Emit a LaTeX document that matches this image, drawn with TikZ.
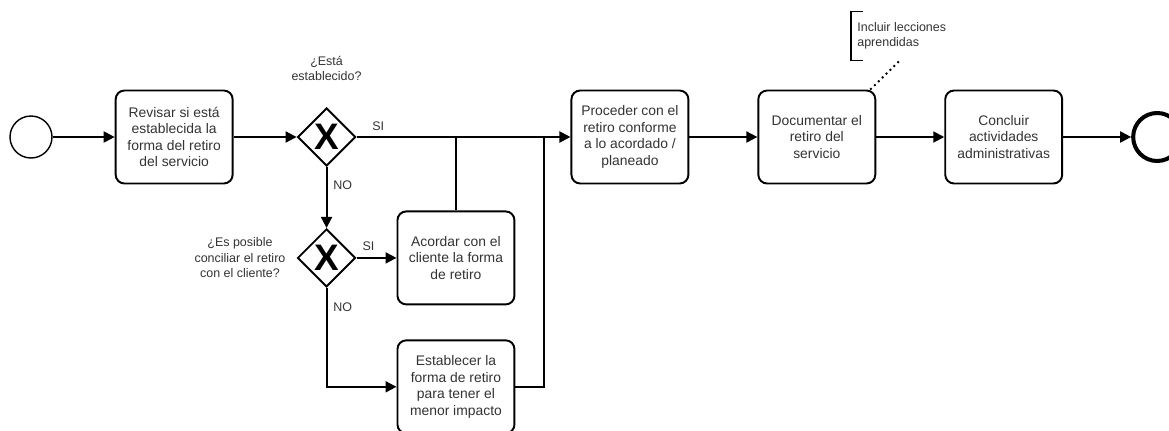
\documentclass[tikz,border=0pt]{standalone}
\usepackage{fontspec}
\setmainfont{Liberation Sans}
\usetikzlibrary{positioning,shapes.geometric,arrows.meta,calc}

\begin{document}
\begin{tikzpicture}[
    x=0.02cm, y=-0.02cm,
    node distance=1.36cm,
    task/.style={rectangle, draw, line width=1.1pt, rounded corners=5pt, minimum width=2.34cm, minimum height=1.86cm, align=center, text=black!80, font=\fontsize{7.9}{9.4}\selectfont},
    gate/.style={diamond, draw, line width=1.1pt, minimum size=1.16cm, inner sep=0pt, font=\fontsize{21}{21}\selectfont\bfseries},
    event/.style={circle, draw, minimum size=0.84cm, inner sep=0pt, line width=0.8pt},
    flow/.style={-{Triangle[length=0.22cm, width=0.22cm]}, line width=1.1pt},
    seqline/.style={line width=1.1pt},
    lbl/.style={font=\fontsize{7.1}{8.8}\selectfont, text=black!80, align=center}
]
\useasboundingbox (0,0) rectangle (1169,430);

% Main row
\node[event] (start) at (31,137) {};
\node[task, right=1.24cm of start] (revisar) {Revisar si está\\establecida la\\forma del retiro\\del servicio};
\node[gate, right=1.26cm of revisar] (gw1) {X};
\node[task, right=4.28cm of gw1] (proceder) {Proceder con el\\retiro conforme\\a lo acordado /\\planeado};
\node[task, right=of proceder] (documentar) {Documentar el\\retiro del\\servicio};
\node[task, right=of documentar] (concluir) {Concluir\\actividades\\administrativas};
\node[event, minimum size=0.96cm, line width=2.3pt, right=of concluir] (end) {};

% Lower branch
\node[gate, below=1.22cm of gw1] (gw2) {X};
\node[task, right=0.8cm of gw2] (acordar) {Acordar con el\\cliente la forma\\de retiro};
\node[task, below=0.68cm of acordar] (establecer) {Establecer la\\forma de retiro\\para tener el\\menor impacto};

% Gateway labels
\node[lbl, above=0.4cm of gw1] (q1) {¿Está\\establecido?};
\node[lbl, left=0.1cm of gw2] (q2) {¿Es posible\\conciliar el retiro\\con el cliente?};

% Annotation
\node[lbl, anchor=west, align=left, minimum height=0.96cm, inner xsep=0.12cm] (nota) at (851,36) {Incluir lecciones\\aprendidas};
\draw[seqline, line width=0.9pt] ($(nota.north west)+(12,0)$) -- (nota.north west) -- (nota.south west) -- ++(12,0);
\draw[dotted, line width=1.1pt] ($(documentar.north east)+(-6,0)$) -- ($(nota.south west)+(49,0)$);

% Merge point
\coordinate[right=0.58cm of establecer.east] (estout);

% Sequence flows
\draw[flow] (start) -- (revisar);
\draw[flow] (revisar) -- (gw1);
\draw[flow] (gw1) -- node[lbl, anchor=south west, pos=0, xshift=0.18cm] {SI} (proceder);
\draw[flow] (gw1) -- node[lbl, right, pos=0.3] {NO} (gw2);
\draw[flow] (gw2) -- node[lbl, above, pos=0.3] {SI} (acordar);
\draw[flow] (gw2) |- node[lbl, right, pos=0.1] {NO} (establecer);
\draw[seqline] (acordar) -- (acordar.north |- gw1.east);
\draw[seqline] (establecer) -| (estout |- gw1.east);
\draw[flow] (proceder) -- (documentar);
\draw[flow] (documentar) -- (concluir);
\draw[flow] (concluir) -- (end);

\end{tikzpicture}
\end{document}
